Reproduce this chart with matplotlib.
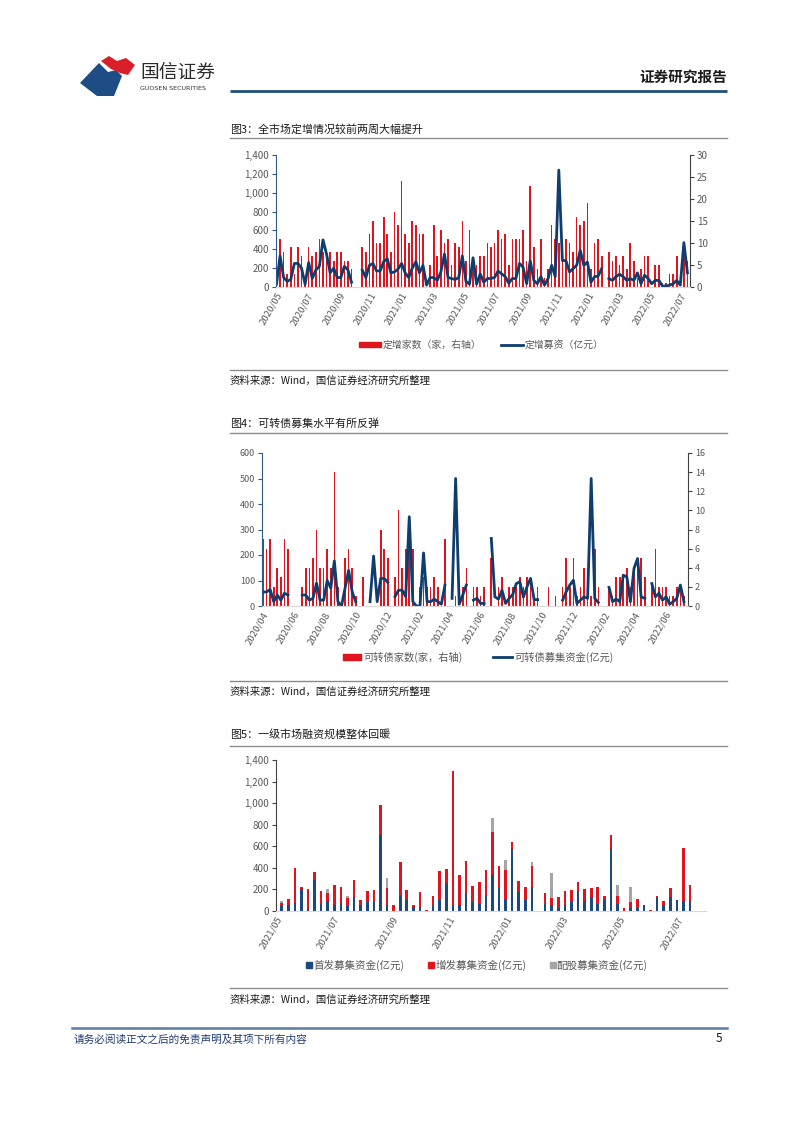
import numpy as np
import pandas as pd
import matplotlib
matplotlib.use('Agg')
import matplotlib.pyplot as plt
import matplotlib.dates as mdates
from matplotlib.patches import Polygon, Rectangle
from matplotlib.lines import Line2D
from matplotlib.ticker import FuncFormatter, MultipleLocator

plt.rcParams['font.family'] = ['Noto Sans CJK SC', 'DejaVu Sans']
plt.rcParams['axes.unicode_minus'] = False

nan = np.nan

# ---------------- Data: Figure 3 (private placements, weekly) ----------------
pp_start = '2020-05-01'
pp_count_seg1 = [0, 11, 8, 3, 9, 3, 9, 7, 2, 9, 7, 8, 11, 8, 8, 8, 6, 8, 8, 6, 6, 4]
pp_amount_seg1 = [30, 330, 100, 60, 80, 250, 250, 200, 30, 260, 90, 180, 220, 500, 350, 150, 200,
                  100, 100, 220, 180, 50]
pp_count_seg2 = [9, 8, 12, 15, 10, 10, 16, 12, 8, 17, 14, 24, 12, 10, 15, 14, 12, 12, 0, 5, 14, 7, 13,
                 10, 11, 5, 10, 9, 15, 6, 13, 4, 5, 7,
                 7, 10, 9, 10, 13, 11, 12, 5, 11, 11, 11, 13, 6, 23, 9, 4, 11, 2, 4, 14, 11, 10, 6,
                 11, 10, 8, 16, 14, 15, 19, 4, 10, 11, 7]
pp_amount_seg2 = [180, 100, 230, 250, 170, 170, 270, 300, 150, 160, 190, 250, 150, 100, 200, 270, 150,
                  230, 20, 100, 100, 70, 160, 350, 100, 90, 80, 100, 330, 60, 30, 310, 30, 140,
                  50, 90, 90, 100, 170, 140, 110, 40, 90, 90, 250, 210, 35, 280, 70, 35, 110, 20, 90,
                  230, 110, 1240, 280, 280, 160, 195, 230, 390, 230, 265, 50, 110, 115, 195]
pp_count_seg3 = [8, 6, 7, 5, 7, 4, 10, 6, 2, 4, 7, 7, 0, 5, 5, 1, 1, 3, 3, 7, 0, 10, 6]
pp_amount_seg3 = [90, 70, 110, 135, 110, 70, 90, 70, 150, 35, 125, 90, 35, 70, 70, 10, 10, 20, 35, 70,
                  20, 470, 150]

# ---------------- Data: Figure 4 (convertible bonds, weekly) ----------------
cb_start = '2020-04-03'
cb_count = [7, 6, 7, 2, 4, 3, 7, 6, nan, nan, nan, 2, 4, 4, 5, 8, 4, 4, 6, 4,
            14, 2, nan, 5, 6, 4, 1, nan, 3, nan, nan, nan, nan, 8, 6, 5, nan, 3, 10, 4,
            6, 6, 6, nan, 2, 3, 2, 2, 3, 2, nan, 7, nan, nan, 1, nan, 2, 4, nan, 2,
            2, 1, 2, nan, 5, nan, 2, 3, nan, 2, 2, 2, 3, 2, 3, 3, 1, 2, nan, nan,
            2, nan, 1, nan, 2, 5, 2, 5, 1, 2, 4, 2, 1, 6, 2, nan, nan, 2, 1, 3,
            3, 3, 4, 2, 4, 4, 5, 3, nan, 2, 6, 2, 2, 2, 1, 1, 2, 2, 1]
cb_amount = [55, 55, 65, 17, 43, 23, 50, 43, nan, nan, nan, 43, 43, 23, 30, 90, 23, 23, 100, 70,
             177, 17, 0, 70, 140, 55, 17, nan, nan, nan, 17, 196, 17, 108, 108, 92, nan, 37, 62, 62,
             37, 350, 17, 0, 0, 208, 17, 17, 27, 17, 7, 82, nan, 30, 500, 7, 43, 82, nan, 23,
             30, 10, 10, nan, 265, 36, 27, 62, 10, 30, 45, 88, 95, 35, 75, 108, 25, 25, nan, nan,
             nan, nan, nan, nan, 23, 56, 82, 101, 10, 23, 36, 30, 500, 30, 14, nan, nan, 73, 17, 27,
             17, 121, 114, 17, 147, 186, 36, 30, nan, 88, 36, 50, 23, 36, 7, 17, 30, 82, 17]

# ---------------- Data: Figure 5 (primary market financing, weekly) ----------------
pm_start = '2021-05-07'
pm_ipo = [50, 60, 70, 200, 20, 290, 65, 90, 60, 70, 50, 126, 55, 86, 80, 702, 60, 0, 135, 105,
          35, 25, 0, 50, 100, 260, 55, 55, 163, 80, 65, 148, 333, 209, 105, 573, 172, 105, 219, nan,
          65, 59, 28, 59, 80, 188, 95, 132, 65, 100, 573, 65, 0, 28, 25, 55, 0, 117, 55, 126,
          102, 95, 90]
pm_seo = [20, 50, 330, 20, 180, 67, 123, 73, 183, 155, 70, 160, 50, 96, 114, 278, 150, 60, 321, 89,
          20, 147, 12, 92, 273, 128, 1242, 281, 302, 154, 200, 234, 400, 210, 277, 67, 108, 120, 200, nan,
          98, 58, 104, 123, 114, 77, 108, 80, 160, 42, 132, 77, 28, 52, 86, 0, 12, 18, 35, 90,
          0, 487, 153]
pm_rights = [20, 0, 0, 0, 0, 0, 0, 45, 0, 0, 20, 0, 0, 0, 0, 0, 92, 0, 0, 0,
             0, 0, 0, 0, 0, 0, 0, 0, 0, 0, 0, 0, 132, 0, 92, 0, 0, 0, 31, nan,
             0, 234, 0, 0, 0, 0, 0, 0, 0, 0, 0, 101, 0, 139, 0, 0, 0, 0, 0, 0,
             0, 0, 0]

RED = '#E0141E'
NAVY = '#0E3D6E'
BLUE3 = '#1B4A7E'
GRAY3 = '#A5A5A5'
TXT = '#595959'

W, H = 802, 1133
fig = plt.figure(figsize=(W / 100, H / 100), dpi=100)

bg = fig.add_axes([0, 0, 1, 1])
bg.set_xlim(0, W)
bg.set_ylim(H, 0)
bg.axis('off')


def ax_px(l, t, r, b):
    return fig.add_axes([l / W, 1 - b / H, (r - l) / W, (b - t) / H])


def style_date_axis(ax, months, xmin, xmax):
    ax.xaxis.set_major_locator(mdates.MonthLocator(bymonth=months))
    ax.xaxis.set_major_formatter(mdates.DateFormatter('%Y/%m'))
    ax.set_xlim(pd.Timestamp(xmin), pd.Timestamp(xmax))
    ax.tick_params(axis='x', length=0, pad=3, labelsize=6.9, labelcolor=TXT)
    for lab in ax.get_xticklabels():
        lab.set_rotation(60)
        lab.set_ha('right')
        lab.set_va('top')
        lab.set_rotation_mode('anchor')


comma = FuncFormatter(lambda v, p: f'{int(v):,}')

# ---------------- header ----------------
bg.add_patch(Polygon([(80, 83), (99, 63), (108, 72), (116, 70), (122, 76), (114, 96), (97, 96)],
                     closed=True, color='#1E4C84', lw=0))
bg.add_patch(Polygon([(101, 61), (109, 56), (117, 61), (126, 58), (135, 65), (128, 75), (120, 73),
                      (111, 69)], closed=True, color='#D9202A', lw=0))
bg.text(140, 72, '国信证券', fontsize=13.5, color='#2A2A2A', va='center', ha='left')
bg.text(140, 89, 'GUOSEN SECURITIES', fontsize=4.6, color='#333333', va='center', ha='left',
        family=['DejaVu Sans'])
bg.text(727, 77, '证券研究报告', fontsize=10.5, fontweight='bold', color='#1A1A1A', va='center',
        ha='right')
bg.plot([230, 727], [91, 91], color='#1F4E79', lw=2, solid_capstyle='butt')

# ---------------- titles / separators / sources ----------------
SEP = '#8C8C8C'
titles = [(129, '图3：全市场定增情况较前两周大幅提升'),
          (424, '图4：可转债募集水平有所反弹'),
          (734, '图5：一级市场融资规模整体回暖')]
for y, t in titles:
    bg.text(230, y, t, fontsize=7.9, color='#1A1A1A', va='center', ha='left')
for y in [138, 433, 746, 370, 681, 988]:
    bg.plot([230, 727], [y, y], color=SEP, lw=1)
for y in [381, 692, 1000]:
    bg.text(230, y, '资料来源：Wind，国信证券经济研究所整理', fontsize=7.5, color='#1A1A1A',
            va='center', ha='left')

# footer
bg.plot([72, 727], [1028, 1028], color='#5B7BA6', lw=1.8)
bg.text(74, 1039, '请务必阅读正文之后的免责声明及其项下所有内容', fontsize=7.7, color='#1F3D73',
        va='center', ha='left')
bg.text(722, 1039, '5', fontsize=8.5, color='#1A1A1A', va='center', ha='right')

# ---------------- Chart 1 ----------------
pp_count = pp_count_seg1 + [nan, nan] + pp_count_seg2 + [nan] + pp_count_seg3
pp_amount = pp_amount_seg1 + [nan, nan] + pp_amount_seg2 + [nan] + pp_amount_seg3
d1 = pd.date_range(pp_start, periods=len(pp_count), freq='7D')

ax1 = ax_px(276, 155, 690, 287)
ax1r = ax1.twinx()
ax1r.bar(d1, pp_count, width=3.2, color=RED, linewidth=0)
ax1.plot(d1, pp_amount, color=NAVY, lw=2.0, solid_joinstyle='round')
ax1.set_zorder(ax1r.get_zorder() + 1)
ax1.patch.set_visible(False)
ax1.set_ylim(0, 1400)
ax1.yaxis.set_major_locator(MultipleLocator(200))
ax1.yaxis.set_major_formatter(comma)
ax1r.set_ylim(0, 30)
ax1r.yaxis.set_major_locator(MultipleLocator(5))
style_date_axis(ax1, (1, 3, 5, 7, 9, 11), '2020-04-30', '2022-07-20')
ax1r.set_xlim(pd.Timestamp('2020-04-30'), pd.Timestamp('2022-07-20'))
for s in ['top', 'right']:
    ax1.spines[s].set_visible(False)
for s in ['top', 'left', 'bottom']:
    ax1r.spines[s].set_visible(False)
ax1.spines['left'].set_color('#2F5A8A')
ax1.spines['bottom'].set_color('#D9D9D9')
ax1r.spines['right'].set_color('#404040')
ax1.tick_params(axis='y', length=3, color='#2F5A8A', labelsize=7, labelcolor=TXT, pad=2)
ax1r.tick_params(axis='y', length=3, color='#404040', labelsize=7, labelcolor=TXT, pad=2)

fig.legend([Rectangle((0, 0), 1, 1, color=RED), Line2D([], [], color=NAVY, lw=2)],
           ['定增家数（家，右轴）', '定增募资（亿元）'], loc='center',
           bbox_to_anchor=(481 / W, 1 - 345 / H), ncol=2, frameon=False, fontsize=7.1,
           labelcolor=TXT, handlelength=2.3, handleheight=0.55, handletextpad=0.1,
           columnspacing=2.0)

# ---------------- Chart 2 ----------------
d2 = pd.date_range(cb_start, periods=len(cb_count), freq='7D')
ax2 = ax_px(262, 453, 688, 606)
ax2r = ax2.twinx()
ax2r.bar(d2, cb_count, width=3.2, color=RED, linewidth=0)
ax2.plot(d2, cb_amount, color=NAVY, lw=2.0, solid_joinstyle='round')
ax2.set_zorder(ax2r.get_zorder() + 1)
ax2.patch.set_visible(False)
ax2.set_ylim(0, 600)
ax2.yaxis.set_major_locator(MultipleLocator(100))
ax2r.set_ylim(0, 16)
ax2r.yaxis.set_major_locator(MultipleLocator(2))
style_date_axis(ax2, (2, 4, 6, 8, 10, 12), '2020-04-01', '2022-07-16')
ax2r.set_xlim(pd.Timestamp('2020-04-01'), pd.Timestamp('2022-07-16'))
for s in ['top', 'right']:
    ax2.spines[s].set_visible(False)
for s in ['top', 'left', 'bottom']:
    ax2r.spines[s].set_visible(False)
ax2.spines['left'].set_color('#2F5A8A')
ax2.spines['bottom'].set_color('#D9D9D9')
ax2r.spines['right'].set_color('#404040')
ax2.tick_params(axis='y', length=3, color='#2F5A8A', labelsize=6.5, labelcolor=TXT, pad=2)
ax2r.tick_params(axis='y', length=3, color='#404040', labelsize=6.5, labelcolor=TXT, pad=2)

fig.legend([Rectangle((0, 0), 1, 1, color=RED), Line2D([], [], color=NAVY, lw=2)],
           ['可转债家数(家，右轴)', '可转债募集资金(亿元)'], loc='center',
           bbox_to_anchor=(478 / W, 1 - 657 / H), ncol=2, frameon=False, fontsize=7.4,
           labelcolor=TXT, handlelength=1.8, handleheight=0.55, handletextpad=0.2,
           columnspacing=3.0)

# ---------------- Chart 3 ----------------
d3 = pd.date_range(pm_start, periods=len(pm_ipo), freq='7D')
ipo = np.array(pm_ipo, dtype=float)
seo = np.array(pm_seo, dtype=float)
rights = np.array(pm_rights, dtype=float)
ax3 = ax_px(276, 760, 706, 911)
ax3.bar(d3, ipo, width=2.8, color=BLUE3, linewidth=0)
ax3.bar(d3, seo, width=2.8, bottom=ipo, color=RED, linewidth=0)
ax3.bar(d3, rights, width=2.8, bottom=ipo + seo, color=GRAY3, linewidth=0)
ax3.set_ylim(0, 1400)
ax3.yaxis.set_major_locator(MultipleLocator(200))
ax3.yaxis.set_major_formatter(comma)
style_date_axis(ax3, (1, 3, 5, 7, 9, 11), '2021-05-01', '2022-08-01')
for s in ['top', 'right']:
    ax3.spines[s].set_visible(False)
ax3.spines['left'].set_color('#404040')
ax3.spines['bottom'].set_color('#D9D9D9')
ax3.tick_params(axis='y', length=3, color='#404040', labelsize=7, labelcolor=TXT, pad=2)

fig.legend([Line2D([], [], marker='s', ls='none', color=BLUE3, markersize=4),
            Line2D([], [], marker='s', ls='none', color=RED, markersize=4),
            Line2D([], [], marker='s', ls='none', color=GRAY3, markersize=4)],
           ['首发募集资金(亿元)', '增发募集资金(亿元)', '配股募集资金(亿元)'], loc='center',
           bbox_to_anchor=(477 / W, 1 - 965 / H), ncol=3, frameon=False, fontsize=7.6,
           labelcolor=TXT, handlelength=0.6, handletextpad=0.1, columnspacing=2.2)

fig.savefig('out.png', dpi=100)
